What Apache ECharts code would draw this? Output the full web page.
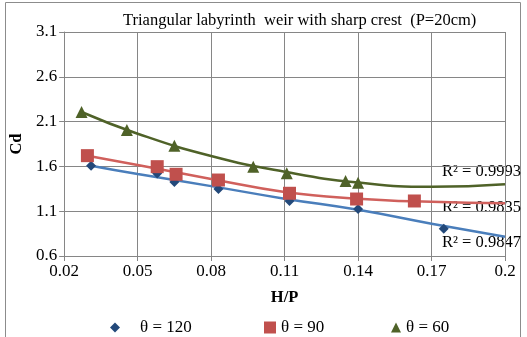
<!DOCTYPE html>
<html><head><meta charset="utf-8">
<script src="https://cdn.jsdelivr.net/npm/echarts@6/dist/echarts.min.js"></script>
<style>html,body{margin:0;padding:0;background:#fff}#c{width:527px;height:337px}</style>
</head><body><div id="c"></div>
<script>
const xTicks = [0.02, 0.05, 0.08, 0.11, 0.14, 0.17, 0.2];
const yTicks = [0.6, 1.1, 1.6, 2.1, 2.6, 3.1];
const seriesNames = ['θ = 120', 'θ = 90', 'θ = 60'];
const hp120 = [0.031, 0.058, 0.065, 0.083, 0.112, 0.140, 0.175];
const cd120 = [1.608, 1.52, 1.426, 1.348, 1.214, 1.125, 0.905];
const hp90 = [0.0295, 0.058, 0.0657, 0.083, 0.112, 0.1394, 0.163];
const cd90 = [1.72, 1.597, 1.512, 1.448, 1.30, 1.236, 1.214];
const hp60 = [0.0271, 0.0456, 0.065, 0.0972, 0.1109, 0.1349, 0.14];
const cd60 = [2.207, 2.006, 1.831, 1.597, 1.523, 1.437, 1.418];
// trendlines
const trendX120 = [0.031, 0.05, 0.08, 0.11, 0.14, 0.17, 0.2];
const trendY120 = [1.608, 1.515, 1.38, 1.24, 1.115, 0.96, 0.815];
const trendX90 = [0.0295, 0.05, 0.08, 0.11, 0.14, 0.17, 0.2];
const trendY90 = [1.72, 1.616, 1.46, 1.315, 1.24, 1.205, 1.19];
const trendX60 = [0.0271, 0.05, 0.08, 0.11, 0.14, 0.17, 0.2];
const trendY60 = [2.207, 1.965, 1.716, 1.54, 1.42, 1.372, 1.40];
const r2Labels = ['R² = 0.9847', 'R² = 0.9835', 'R² = 0.9993'];

const zip = (a, b) => a.map((v, i) => [v, b[i]]);
const F = 'Liberation Serif, Times New Roman, serif';
const blueM = '#23497a', blueL = '#4a7ebb', red = '#c0504d', green = '#4f6228';

const chart = echarts.init(document.getElementById('c'));
const legendBase = {orient: 'horizontal', top: 314, textStyle: {fontFamily: F, fontSize: 17, color: '#000'}};
chart.setOption({
  animation: false,
  title: {text: 'Triangular labyrinth  weir with sharp crest  (P=20cm)', left: 118, top: 7,
    textStyle: {fontFamily: F, fontSize: 16.5, fontWeight: 'normal', color: '#000'}},
  grid: {left: 62.7, right: 22, top: 32, bottom: 81},
  xAxis: {type: 'value', min: xTicks[0], max: xTicks[xTicks.length - 1], interval: 0.03,
    name: 'H/P', nameLocation: 'middle', nameGap: 33,
    nameTextStyle: {fontFamily: F, fontSize: 16.5, fontWeight: 'bold', color: '#000'},
    axisLine: {lineStyle: {color: '#868686'}}, axisTick: {show: true, length: 5, lineStyle: {color: '#868686'}},
    axisLabel: {fontFamily: F, fontSize: 17, color: '#000', margin: 7, formatter: v => String(+v.toFixed(2))},
    splitLine: {show: true, lineStyle: {color: '#868686'}}},
  yAxis: {type: 'value', min: yTicks[0], max: yTicks[yTicks.length - 1], interval: 0.5,
    name: 'Cd', nameLocation: 'middle', nameGap: 37, nameRotate: 90,
    nameTextStyle: {fontFamily: F, fontSize: 16.5, fontWeight: 'bold', color: '#000'},
    axisLine: {show: true, lineStyle: {color: '#868686'}}, axisTick: {show: true, length: 5, lineStyle: {color: '#868686'}},
    axisLabel: {fontFamily: F, fontSize: 17, color: '#000', margin: 7, formatter: v => (+v).toFixed(1)},
    splitLine: {show: true, lineStyle: {color: '#868686'}}},
  legend: [
    Object.assign({}, legendBase, {left: 105, data: [seriesNames[0]], itemWidth: 10, itemHeight: 10, textStyle: Object.assign({}, legendBase.textStyle, {padding: [0, 0, 0, 15]})}),
    Object.assign({}, legendBase, {left: 259, data: [seriesNames[1]], itemWidth: 12, itemHeight: 12}),
    Object.assign({}, legendBase, {left: 386, data: [seriesNames[2]], itemWidth: 10, itemHeight: 10})
  ],
  series: [
    {type: 'line', smooth: true, showSymbol: false, silent: true, data: zip(trendX120, trendY120), lineStyle: {color: blueL, width: 2.5}, z: 1},
    {type: 'line', smooth: true, showSymbol: false, silent: true, data: zip(trendX90, trendY90), lineStyle: {color: '#d0605c', width: 2.5}, z: 1},
    {type: 'line', smooth: true, showSymbol: false, silent: true, data: zip(trendX60, trendY60), lineStyle: {color: green, width: 2.5}, z: 1},
    {name: seriesNames[0], type: 'scatter', symbol: 'diamond', symbolSize: 10, data: zip(hp120, cd120), itemStyle: {color: blueM, opacity: 1}, z: 3},
    {name: seriesNames[1], type: 'scatter', symbol: 'rect', symbolSize: 13, data: zip(hp90, cd90), itemStyle: {color: red, opacity: 1}, z: 4},
    {name: seriesNames[2], type: 'scatter', symbol: 'triangle', symbolSize: 12, data: zip(hp60, cd60), itemStyle: {color: green, opacity: 1}, z: 5}
  ],
  graphic: [
    {type: 'rect', shape: {x: 5.5, y: 2.5, width: 515, height: 340}, style: {fill: 'none', stroke: '#8c8c8c', lineWidth: 1}, silent: true, z: -10},
    {type: 'text', left: 442, top: 163, style: {text: r2Labels[2], font: '16.5px ' + F, fill: '#000'}},
    {type: 'text', left: 442, top: 199, style: {text: r2Labels[1], font: '16.5px ' + F, fill: '#000'}},
    {type: 'text', left: 442, top: 234, style: {text: r2Labels[0], font: '16.5px ' + F, fill: '#000'}}
  ]
});
</script></body></html>
